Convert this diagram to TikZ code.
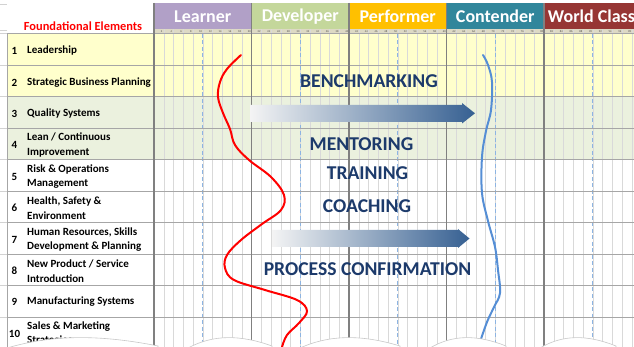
\documentclass[tikz,border=0pt]{standalone}
\usepackage{fontspec}
\setmainfont{Carlito}
\definecolor{yel}{HTML}{FFFFCC}
\definecolor{grn}{HTML}{EBF1DE}
\definecolor{hLearner}{HTML}{B1A0C7}
\definecolor{hDev}{HTML}{C4D79B}
\definecolor{hPerf}{HTML}{FFC000}
\definecolor{hCont}{HTML}{31869B}
\definecolor{hWorld}{HTML}{963634}
\definecolor{tickbg}{HTML}{DDD9C4}
\definecolor{navy}{HTML}{1C3A6B}
\definecolor{dashblue}{HTML}{8DB4E2}
\definecolor{subline}{HTML}{D9D9D9}
\definecolor{majline}{HTML}{808080}
\definecolor{rowline}{HTML}{A6A6A6}
\definecolor{curveblue}{HTML}{558ED5}
\definecolor{arrL}{HTML}{F4F4F4}
\definecolor{arrM}{HTML}{92CDDC}
\definecolor{arrR}{HTML}{366092}
\definecolor{tornline}{HTML}{C8C8C8}
\tikzset{
  hdr/.style={text=white, font=\fontsize{18}{20}\selectfont\bfseries, inner sep=0pt},
  lbl/.style={anchor=west, align=left, inner sep=0pt, font=\fontsize{11}{14.5}\selectfont\bfseries},
  num/.style={inner sep=0pt, font=\fontsize{11}{14}\selectfont\bfseries},
  big/.style={text=navy, inner sep=0pt, font=\fontsize{19.6}{21}\selectfont\bfseries},
  tick/.style={inner sep=0pt, font=\fontsize{2.8}{3}\selectfont, text=black!70},
  subl/.style={draw=subline, line width=0.5pt},
  majl/.style={draw=majline, line width=1.2pt},
  rowl/.style={draw=rowline, line width=0.8pt},
  dashl/.style={draw=dashblue, line width=0.9pt, dash pattern=on 4pt off 2.5pt},
  arrowshade/.style={left color=arrL, middle color=arrM, right color=arrR},
  torn/.style={fill=white, draw=tornline, line width=0.6pt},
}
\begin{document}
\begin{tikzpicture}[x=1pt,y=-1pt]
\useasboundingbox (0,0) rectangle (634,347);
\fill[white] (0,0) rectangle (634,347);
% row backgrounds
\fill[yel] (7,33.5) rectangle (634,96.5);
\fill[grn] (7,96.5) rectangle (634,159.5);
% tick row
\fill[tickbg] (154,29) rectangle (634,34);
% sub-column lines
\foreach \i in {1,...,49}{
  \pgfmathtruncatemacro{\m}{mod(\i,10)}
  \ifnum\m=0\relax\else
    \draw[subl] ({154+9.75*\i},29) -- ({154+9.75*\i},347);
  \fi
}
% dashed mid lines
\foreach \k in {0,...,4}{
  \draw[dashl] ({154+97.5*\k+48.75},34) -- ({154+97.5*\k+48.75},347);
}
% row lines
\draw[draw=rowline!50, line width=0.6pt] (0,4) -- (7,4);
\draw[draw=rowline!50, line width=0.6pt] (0,30) -- (7,30);
\foreach \k in {0,...,9}{
  \draw[rowl] (7,{33.5+31.5*\k}) -- (634,{33.5+31.5*\k});
  \draw[draw=rowline!50, line width=0.6pt] (0,{33.5+31.5*\k}) -- (7,{33.5+31.5*\k});
}
% headers
\fill[hLearner] (154,3) rectangle (251.5,29);
\fill[hDev] (251.5,3) rectangle (349,29);
\fill[hPerf] (349,3) rectangle (446.5,29);
\fill[hCont] (446.5,3) rectangle (544,29);
\fill[hWorld] (544,3) rectangle (634,29);
\node[hdr] (hl) at (202.75,16.5) {Learner};
\node[hdr] (hd) at (300.25,16.5) {Developer};
\node[hdr] (hp) at (397.75,16.5) {Performer};
\node[hdr] (hc) at (495.25,16.5) {Contender};
\node[hdr] (hw) at (591.5,16.5) {World Class};
% tick numbers
\foreach \i in {1,...,49}{
  \pgfmathtruncatemacro{\v}{2*\i}
  \node[tick] (t\i) at ({154+9.75*\i-2.2},31.6) {\v};
}
% major lines
\foreach \k in {0,...,4}{
  \draw[majl] ({154+97.5*\k},3) -- ({154+97.5*\k},347);
}
\draw[rowl] (7,33.5) -- (7,347);
% title
\node[text=red, inner sep=0pt, font=\fontsize{12.4}{14}\selectfont\bfseries] (title) at (83,26) {Foundational Elements};
% labels
\node[num] (n1) at (14.5,51) {1};
\node[lbl] (l1) at (27,51) {Leadership};
\node[num] (n2) at (14.5,82.5) {2};
\node[lbl] (l2) at (27,82.5) {Strategic Business Planning};
\node[num] (n3) at (14.5,114) {3};
\node[lbl] (l3) at (27,114) {Quality Systems};
\node[num] (n4) at (14.5,145) {4};
\node[lbl] (l4) at (27,145) {Lean / Continuous\\Improvement};
\node[num] (n5) at (14.5,176.5) {5};
\node[lbl] (l5) at (27,176.5) {Risk \& Operations\\Management};
\node[num] (n6) at (14.5,208) {6};
\node[lbl] (l6) at (27,208) {Health, Safety \&\\Environment};
\node[num] (n7) at (14.5,239.5) {7};
\node[lbl] (l7) at (27,239.5) {Human Resources, Skills\\Development \& Planning};
\node[num] (n8) at (14.5,271) {8};
\node[lbl] (l8) at (27,271) {New Product / Service\\Introduction};
\node[num] (n9) at (14.5,302) {9};
\node[lbl] (l9) at (27,302) {Manufacturing Systems};
\node[num] (n10) at (14.5,333.5) {10};
\node[lbl] (l10) at (27,333.5) {Sales \& Marketing\\Strategies};
% big texts
\node[big] (bench) at (369,81) {BENCHMARKING};
\node[big] (ment) at (361.5,144.5) {MENTORING};
\node[big] (train) at (367.5,173) {TRAINING};
\node[big] (coach) at (367,206.5) {COACHING};
\node[big] (proc) at (367.5,269.5) {PROCESS CONFIRMATION};
% arrows
\shade[arrowshade] (250,105) -- (462,105) -- (462,103) -- (475,113.3) -- (462,123.5) -- (462,122) -- (250,122) -- cycle;
\shade[arrowshade] (272,230) -- (458,230) -- (458,229) -- (469.5,238.5) -- (458,248) -- (458,247) -- (272,247) -- cycle;
% curves
\draw[red, line width=2pt, line cap=round] plot[smooth, tension=0.6] coordinates {
 (241,55) (227,69) (220,82) (218,97) (223,113) (230,129) (235,145) (249,160) (271,177) (284,195) (281,210) (262,224) (241,240) (227,255) (225,268) (234,280) (265,290) (297,300) (307,311) (299,323) (287,335) (282,347)};
\draw[curveblue, line width=2pt, line cap=round] plot[smooth, tension=0.6] coordinates {
 (483,55) (488,65) (492,82) (491,110) (486,131) (482,157) (482,193) (488,221) (495,247) (498,270) (500,293) (494,307) (487,322) (480,342)};
% torn bottom edge
\foreach \a/\b in {7/158, 188/272, 300/400, 430/506, 540/616}{
  \path[torn] (\a,348) .. controls ({\a+0.3*(\b-\a)},334.5) and ({\a+0.62*(\b-\a)},334.5) .. (\b,346) -- (\b,348) -- cycle;
}
\end{tikzpicture}
\end{document}
